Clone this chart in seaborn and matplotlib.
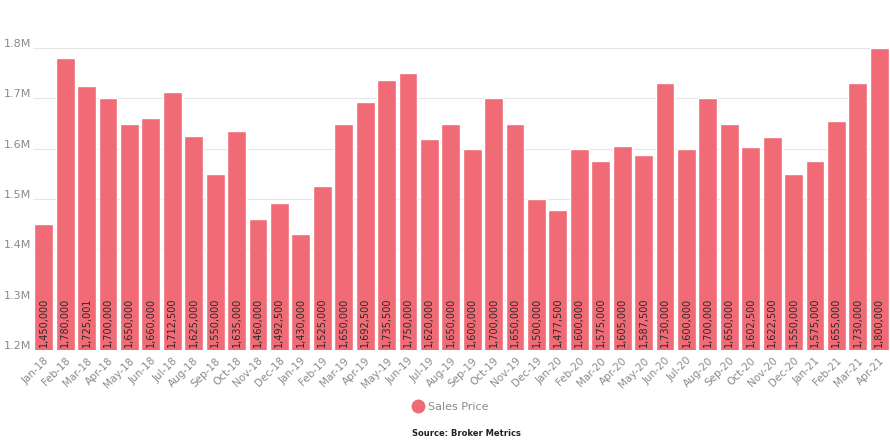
import matplotlib
matplotlib.use("Agg")
import matplotlib.pyplot as plt
import matplotlib.transforms as mtransforms
from matplotlib.lines import Line2D
import seaborn as sns
import pandas as pd

months = ["Jan-18", "Feb-18", "Mar-18", "Apr-18", "May-18", "Jun-18", "Jul-18", "Aug-18",
          "Sep-18", "Oct-18", "Nov-18", "Dec-18", "Jan-19", "Feb-19", "Mar-19", "Apr-19",
          "May-19", "Jun-19", "Jul-19", "Aug-19", "Sep-19", "Oct-19", "Nov-19", "Dec-19",
          "Jan-20", "Feb-20", "Mar-20", "Apr-20", "May-20", "Jun-20", "Jul-20", "Aug-20",
          "Sep-20", "Oct-20", "Nov-20", "Dec-20", "Jan-21", "Feb-21", "Mar-21", "Apr-21"]
sales_price = [1450000, 1780000, 1725001, 1700000, 1650000, 1660000, 1712500, 1625000,
               1550000, 1635000, 1460000, 1492500, 1430000, 1525000, 1650000, 1692500,
               1735500, 1750000, 1620000, 1650000, 1600000, 1700000, 1650000, 1500000,
               1477500, 1600000, 1575000, 1605000, 1587500, 1730000, 1600000, 1700000,
               1650000, 1602500, 1622500, 1550000, 1575000, 1655000, 1730000, 1800000]
y_ticks = [1200000, 1300000, 1400000, 1500000, 1600000, 1700000, 1800000]
y_tick_labels = ["1.2M", "1.3M", "1.4M", "1.5M", "1.6M", "1.7M", "1.8M"]
series_name = "Sales Price"
source_text = "Source: Broker Metrics"

bar_color = "#F06B76"
grid_color = "#E6E6E6"
label_gray = "#8A8A8A"

sns.set_theme(style="white")
plt.rcParams["font.family"] = ["DejaVu Sans"]

df = pd.DataFrame({"month": months, "price": sales_price})

fig = plt.figure(figsize=(8.9, 4.48), dpi=100)
ax = fig.add_axes([33 / 890, 1 - 350 / 448, 857 / 890, (350 - 48) / 448])

sns.barplot(data=df, x="month", y="price", color=bar_color, saturation=1,
            width=0.88, ax=ax, zorder=2)

ax.set_ylim(1200000, 1800000)
ax.set_xlim(-0.5, len(months) - 0.5)
ax.set_yticks(y_ticks)
ax.set_yticklabels(y_tick_labels)
ax.yaxis.grid(True, color=grid_color, linewidth=0.8, zorder=0)
ax.set_axisbelow(True)
for s in ax.spines.values():
    s.set_visible(False)
ax.set_xlabel("")
ax.set_ylabel("")
ax.tick_params(axis="y", length=0, labelsize=8, labelcolor=label_gray, pad=4)
ax.tick_params(axis="x", length=0, labelsize=7.5, labelcolor=label_gray, pad=4)

offset = mtransforms.ScaledTranslation(0, 5 / 100, fig.dpi_scale_trans)
for lab in ax.get_yticklabels():
    lab.set_transform(lab.get_transform() + offset)
    lab.set_horizontalalignment("left")
    lab.set_x(-0.5)
ax.tick_params(axis="y", pad=0)
for lab in ax.get_yticklabels():
    lab.set_transform(ax.get_yaxis_transform() + mtransforms.ScaledTranslation(-29 / 100, 5 / 100, fig.dpi_scale_trans))
    lab.set_x(0)

plt.setp(ax.get_xticklabels(), rotation=45, ha="right", rotation_mode="anchor")

for i, v in enumerate(sales_price):
    ax.text(i, 1200000 + 6000, f"{v:,}", rotation=90, ha="center", va="bottom",
            fontsize=7, color="#2a2a2a", zorder=3)

handle = Line2D([0], [0], marker="o", color="none", markerfacecolor=bar_color,
                markeredgecolor=bar_color, markersize=9, label=series_name)
fig.legend(handles=[handle], loc="center", bbox_to_anchor=(0.506, 1 - 407 / 448),
           frameon=False, fontsize=8, labelcolor=label_gray, handletextpad=0.3,
           handlelength=1.2)

fig.text(0.524, 1 - 433 / 448, source_text, ha="center", va="center",
         fontsize=6, fontweight="bold", color="#222222")

fig.savefig("out.png", dpi=100)
